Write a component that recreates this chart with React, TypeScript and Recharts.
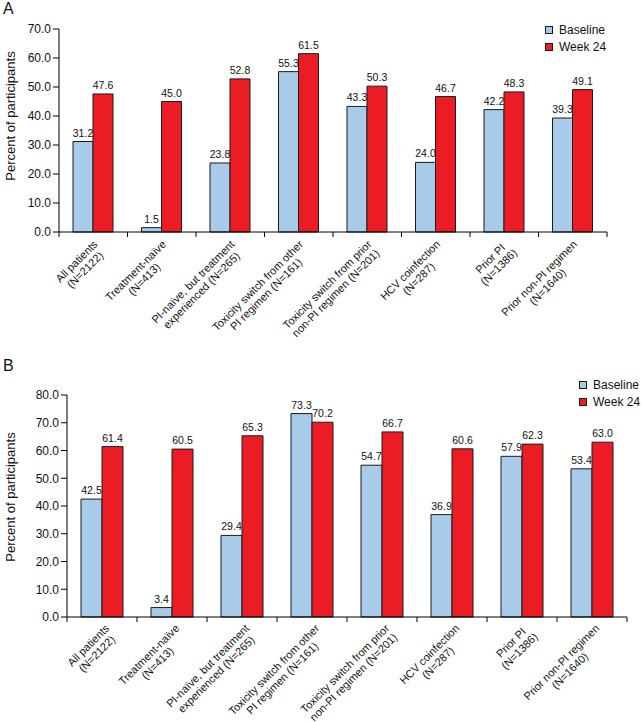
import React from "react"
import { BarChart, Bar, XAxis, YAxis, LabelList } from "recharts"

// category labels, two lines each (drawn rotated)
const categories = [
  ["All patients", "(N=2122)"],
  ["Treatment-naïve", "(N=413)"],
  ["PI-naïve, but treatment", "experienced (N=265)"],
  ["Toxicity switch from other", "PI regimen (N=161)"],
  ["Toxicity switch from prior", "non-PI regimen (N=201)"],
  ["HCV coinfection", "(N=287)"],
  ["Prior PI", "(N=1386)"],
  ["Prior non-PI regimen", "(N=1640)"],
]

const baselineA = [31.2, 1.5, 23.8, 55.3, 43.3, 24.0, 42.2, 39.3]
const week24A = [47.6, 45.0, 52.8, 61.5, 50.3, 46.7, 48.3, 49.1]
const ticksA = [0, 10, 20, 30, 40, 50, 60, 70]

const baselineB = [42.5, 3.4, 29.4, 73.3, 54.7, 36.9, 57.9, 53.4]
const week24B = [61.4, 60.5, 65.3, 70.2, 66.7, 60.6, 62.3, 63.0]
const ticksB = [0, 10, 20, 30, 40, 50, 60, 70, 80]

const seriesNames = ["Baseline", "Week 24"]

const FONT = "'Liberation Sans', Arial, Helvetica, sans-serif"
const BLUE = "#a8cbe9"
const RED = "#ec1c24"
const EDGE = "#1a1a1a"
const CAT_FONT_SIZE = 11

let measureCtx: CanvasRenderingContext2D | null = null
function textWidth(s: string) {
  if (!measureCtx) measureCtx = document.createElement("canvas").getContext("2d")
  if (!measureCtx) return s.length * 6
  measureCtx.font = `${CAT_FONT_SIZE}px ${FONT}`
  return measureCtx.measureText(s).width
}

function CategoryTick(props: any) {
  const { x, y, payload, index, band, count, dx, dy } = props
  const lines = categories[Number(payload.value)] || []
  const maxW = Math.max(...lines.map(textWidth))
  return (
    <g>
      <line x1={x - band / 2} x2={x - band / 2} y1={y} y2={y + 5} stroke="#000" />
      {index === count - 1 && (
        <line x1={x + band / 2} x2={x + band / 2} y1={y} y2={y + 5} stroke="#000" />
      )}
      <g transform={`translate(${x + dx},${y + dy}) rotate(-45)`}>
        {lines.map((t, i) => (
          <text
            key={i}
            x={-maxW / 2}
            y={i * 12}
            textAnchor="middle"
            fontSize={CAT_FONT_SIZE}
            fill="#111"
          >
            {t}
          </text>
        ))}
      </g>
    </g>
  )
}

function LegendBox({ left, top }: { left: number; top: number }) {
  const colors = [BLUE, RED]
  return (
    <div style={{ position: "absolute", left, top, fontSize: 12, color: "#111", whiteSpace: "nowrap" }}>
      {seriesNames.map((name, i) => (
        <div key={name} style={{ display: "flex", alignItems: "center", height: 17.5 }}>
          <span
            style={{
              display: "inline-block",
              width: 6,
              height: 6,
              background: colors[i],
              border: `1px solid ${EDGE}`,
              marginRight: 6,
            }}
          />
          {name}
        </div>
      ))}
    </div>
  )
}

interface PanelProps {
  baseline: number[]
  week24: number[]
  ticks: number[]
  height: number
  margin: { top: number; right: number; left: number; bottom: number }
  xAxisHeight: number
  barSize: number
  labelOffset: [number, number]
}

function Panel({ baseline, week24, ticks, height, margin, xAxisHeight, barSize, labelOffset }: PanelProps) {
  const width = 642
  const yAxisWidth = 45
  const band = (width - margin.left - margin.right - yAxisWidth) / categories.length
  const data = categories.map((_, i) => ({
    cat: String(i),
    baseline: baseline[i],
    week24: week24[i],
  }))
  const fmt = (v: any) => Number(v).toFixed(1)
  return (
    <BarChart width={width} height={height} data={data} margin={margin} barGap={0} barSize={barSize}>
      <XAxis
        dataKey="cat"
        height={xAxisHeight}
        interval={0}
        axisLine={{ stroke: "#000" }}
        tickLine={false}
        tickSize={0}
        tickMargin={0}
        tick={
          <CategoryTick band={band} count={categories.length} dx={labelOffset[0]} dy={labelOffset[1]} />
        }
      />
      <YAxis
        width={yAxisWidth}
        domain={[ticks[0], ticks[ticks.length - 1]]}
        ticks={ticks}
        interval={0}
        tickFormatter={fmt}
        axisLine={{ stroke: "#000" }}
        tickLine={{ stroke: "#000" }}
        tick={{ fontSize: 12, fill: "#111" }}
      />
      <Bar dataKey="baseline" name={seriesNames[0]} fill={BLUE} stroke={EDGE} strokeWidth={1} isAnimationActive={false}>
        <LabelList dataKey="baseline" position="top" offset={5} formatter={fmt} fontSize={10.5} fill="#111" />
      </Bar>
      <Bar dataKey="week24" name={seriesNames[1]} fill={RED} stroke={EDGE} strokeWidth={1} isAnimationActive={false}>
        <LabelList dataKey="week24" position="top" offset={5} formatter={fmt} fontSize={10.5} fill="#111" />
      </Bar>
    </BarChart>
  )
}

const yLabelStyle: React.CSSProperties = {
  position: "absolute",
  left: 10,
  fontSize: 13,
  color: "#111",
  whiteSpace: "nowrap",
  transform: "translate(-50%, -50%) rotate(-90deg)",
}

export default function App() {
  return (
    <div
      style={{
        position: "absolute",
        left: 0,
        top: 0,
        width: 642,
        height: 722,
        background: "#fff",
        fontFamily: FONT,
        overflow: "hidden",
      }}
    >
      <div style={{ position: "absolute", left: 0, top: 0 }}>
        <Panel
          baseline={baselineA}
          week24={week24A}
          ticks={ticksA}
          height={360}
          margin={{ top: 29, right: 35, left: 14, bottom: 0 }}
          xAxisHeight={128}
          barSize={20}
          labelOffset={[5, 13]}
        />
      </div>
      <div style={{ position: "absolute", left: 0, top: 360 }}>
        <Panel
          baseline={baselineB}
          week24={week24B}
          ticks={ticksB}
          height={362}
          margin={{ top: 35, right: 15, left: 22, bottom: 0 }}
          xAxisHeight={105}
          barSize={21}
          labelOffset={[8, 12]}
        />
      </div>
      <LegendBox left={545} top={21} />
      <LegendBox left={579} top={376} />
      <div style={{ position: "absolute", left: 3, top: 0, fontSize: 16, color: "#111" }}>A</div>
      <div style={{ position: "absolute", left: 3, top: 357, fontSize: 16, color: "#111" }}>B</div>
      <div style={{ ...yLabelStyle, top: 116 }}>Percent of participants</div>
      <div style={{ ...yLabelStyle, top: 497 }}>Percent of participants</div>
    </div>
  )
}
